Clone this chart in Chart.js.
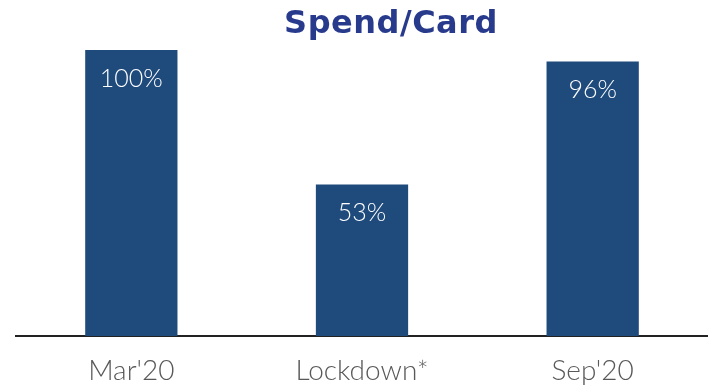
<!DOCTYPE html>
<html>
<head>
<meta charset="utf-8">
<script src="https://cdn.jsdelivr.net/npm/chart.js@4/dist/chart.umd.min.js"></script>
<style>
  html, body { margin: 0; padding: 0; background: #ffffff; }
  #wrap { width: 708px; height: 389px; }
</style>
</head>
<body>
<div id="wrap"><canvas id="c" width="708" height="389"></canvas></div>
<script>
// Spend per card, indexed to March 2020
const categories = ["Mar'20", "Lockdown*", "Sep'20"];
const spendIndex = [100, 53, 96];
const titleText = 'Spend/Card';

// Title drawn slightly right of centre, above the bars
const titlePlugin = {
  id: 'offsetTitle',
  afterDraw(chart) {
    const { ctx } = chart;
    ctx.save();
    ctx.fillStyle = '#283A8C';
    ctx.font = 'bold 32px "DejaVu Sans", Lato, sans-serif';
    if ('letterSpacing' in ctx) ctx.letterSpacing = '0.5px';
    ctx.textAlign = 'center';
    ctx.textBaseline = 'alphabetic';
    ctx.fillText(titleText, 391, 33);
    ctx.restore();
  }
};

// Value labels inside the top of each bar
const valueLabels = {
  id: 'valueLabels',
  afterDatasetsDraw(chart) {
    const { ctx } = chart;
    const meta = chart.getDatasetMeta(0);
    ctx.save();
    ctx.fillStyle = '#ffffff';
    ctx.font = '300 25px Lato, "Open Sans", sans-serif';
    ctx.textAlign = 'center';
    ctx.textBaseline = 'alphabetic';
    meta.data.forEach((bar, i) => {
      ctx.fillText(spendIndex[i] + '%', bar.x, bar.y + 37);
    });
    ctx.restore();
  }
};

new Chart(document.getElementById('c'), {
  type: 'bar',
  data: {
    labels: categories,
    datasets: [{
      data: spendIndex,
      backgroundColor: '#1F4A7C',
      borderWidth: 0,
      barPercentage: 0.4,
      categoryPercentage: 1.0
    }]
  },
  options: {
    responsive: false,
    animation: false,
    layout: { padding: { top: 50, left: 16, right: 0, bottom: 0 } },
    plugins: {
      legend: { display: false },
      tooltip: { enabled: false },
      title: { display: false }
    },
    scales: {
      x: {
        afterFit(scale) { scale.height = 53; },
        grid: { display: false, drawTicks: false },
        border: { display: true, color: '#222222', width: 2 },
        ticks: {
          color: '#595959',
          padding: 18,
          font: { family: 'Lato, "Open Sans", sans-serif', size: 28, weight: 300 }
        }
      },
      y: {
        display: false,
        min: 0,
        max: 100
      }
    }
  },
  plugins: [titlePlugin, valueLabels]
});
</script>
</body>
</html>
